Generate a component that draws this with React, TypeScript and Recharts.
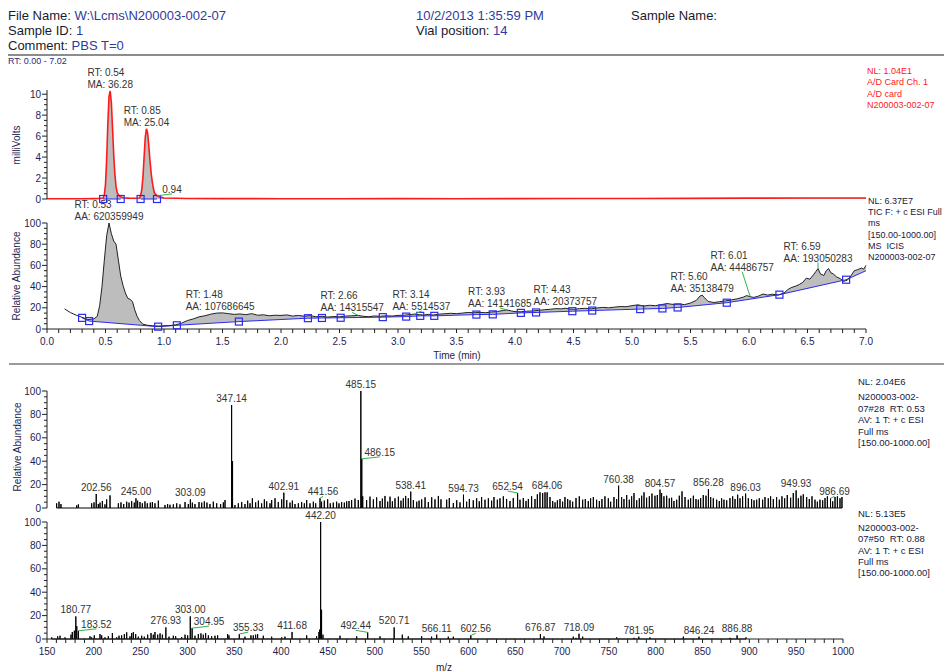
import React from "react";
import { ComposedChart, Line, Area, Scatter, XAxis, YAxis } from "recharts";

const FONT = '"Liberation Sans", Arial, Helvetica, sans-serif';
const AXIS = "#202020";
const TICK_TXT = "#1e1e50";
const NOTE_TXT = "#333333";
const GREEN = "#33b34a";
const BLUE = "#2a2af0";
const RED = "#ff1a1a";
const GRAY = "#bdbdbd";

// ---------- header ----------
const headerLeft: [string, string][] = [
  ["File Name: ", "W:\\Lcms\\N200003-002-07"],
  ["Sample ID: ", "1"],
  ["Comment: ", "PBS T=0"],
];
const headerMid: [string, string][] = [
  ["", "10/2/2013 1:35:59 PM"],
  ["Vial position: ", "14"],
];
const headerRight = "Sample Name:";
const rtRange = "RT: 0.00 - 7.02";

// ---------- A/D channel (milliVolts) ----------
const mvTime = [
  0, 0.1, 0.2, 0.3, 0.4, 0.45, 0.48, 0.49, 0.5, 0.51,
  0.52, 0.53, 0.54, 0.55, 0.56, 0.57, 0.58, 0.59, 0.6, 0.62,
  0.65, 0.7, 0.75, 0.79, 0.8, 0.81, 0.82, 0.83, 0.84, 0.85,
  0.86, 0.87, 0.88, 0.89, 0.9, 0.91, 0.92, 0.94, 0.97, 1.0,
  1.2, 1.5, 2.0, 2.5, 3.0, 3.5, 4.0, 4.5, 5.0, 5.5,
  6.0, 6.5, 7.0,
];
const mvSignal = [
  0.02, 0.03, 0.02, 0.03, 0.04, 0.05, 0.1, 0.4, 1.4, 3.8,
  7.2, 9.8, 10.3, 9.2, 6.8, 4.3, 2.4, 1.2, 0.6, 0.25,
  0.12, 0.08, 0.07, 0.1, 0.3, 0.9, 2.1, 4.0, 5.9, 6.7,
  6.3, 5.1, 3.7, 2.5, 1.6, 0.95, 0.55, 0.3, 0.18, 0.1,
  0.05, 0.04, 0.03, 0.03, 0.04, 0.03, 0.04, 0.05, 0.05, 0.06,
  0.08, 0.1, 0.1,
];
const mvPeakRT = [0.54, 0.85];
const mvPeakHeight = [10.3, 6.7];
const mvPeakArea = ["36.28", "25.04"];
const mvBaseTime = [0.48, 0.63, 0.8, 0.94];
const mvMinorRT = [0.94];
const mvMinorHeight = [0.3];
const mvLegend = ["NL: 1.04E1", "A/D Card Ch. 1", "A/D card", "N200003-002-07"];

// ---------- TIC ----------
const ticTime = [
  0.15, 0.2, 0.25, 0.3, 0.35, 0.4, 0.43, 0.45, 0.47, 0.49,
  0.51, 0.53, 0.55, 0.57, 0.59, 0.61, 0.63, 0.65, 0.67, 0.69,
  0.71, 0.73, 0.75, 0.77, 0.79, 0.82, 0.86, 0.9, 0.95, 1.0,
  1.05, 1.1, 1.15, 1.2, 1.25, 1.3, 1.35, 1.4, 1.45, 1.5,
  1.55, 1.6, 1.65, 1.7, 1.75, 1.8, 1.85, 1.9, 1.95, 2.0,
  2.05, 2.1, 2.15, 2.2, 2.25, 2.3, 2.35, 2.4, 2.45, 2.5,
  2.55, 2.6, 2.66, 2.7, 2.75, 2.8, 2.85, 2.9, 2.95, 3.0,
  3.05, 3.1, 3.14, 3.18, 3.22, 3.26, 3.3, 3.35, 3.4, 3.45,
  3.5, 3.55, 3.6, 3.65, 3.7, 3.75, 3.8, 3.85, 3.9, 3.93,
  3.97, 4.0, 4.05, 4.1, 4.15, 4.2, 4.25, 4.3, 4.35, 4.4,
  4.43, 4.47, 4.5, 4.55, 4.6, 4.65, 4.7, 4.75, 4.8, 4.85,
  4.9, 4.95, 5.0, 5.05, 5.1, 5.15, 5.2, 5.25, 5.3, 5.35,
  5.4, 5.45, 5.5, 5.55, 5.58, 5.6, 5.62, 5.65, 5.7, 5.75,
  5.8, 5.85, 5.9, 5.95, 5.98, 6.01, 6.04, 6.08, 6.12, 6.16,
  6.2, 6.25, 6.3, 6.33, 6.36, 6.4, 6.43, 6.46, 6.49, 6.52,
  6.55, 6.57, 6.59, 6.61, 6.64, 6.66, 6.68, 6.7, 6.72, 6.75,
  6.78, 6.81, 6.84, 6.87, 6.9, 6.93, 6.96, 6.98, 7.0,
];
const ticSignal = [
  19, 15.5, 13, 11, 9, 9.5, 12, 22, 40, 65,
  88, 100, 90, 83, 80, 65, 50, 41, 34, 29,
  28, 26, 18, 12, 8, 4.5, 3.5, 3, 2.8, 3,
  3.2, 4, 5.5, 8, 9.5, 11.5, 12.5, 14, 15, 15.2,
  14.5, 13.8, 14.2, 13.5, 14.5, 13, 13.4, 12.5, 13, 12.8,
  13.3, 12.2, 12.8, 12, 12.6, 11.5, 12, 11.2, 11.8, 11.5,
  12.2, 12.4, 12.8, 12, 11.6, 12.3, 12, 12.5, 12.2, 12.8,
  13, 13.6, 14, 13.5, 13.2, 13.8, 13.2, 14, 14.4, 14.8,
  14.5, 15, 15.6, 15.3, 15.6, 15.4, 16, 16.5, 17.5, 18,
  17, 16.4, 16.2, 16.8, 17, 17.5, 18.2, 18.6, 19.2, 19,
  19.6, 18.8, 18.6, 19.2, 19.5, 19, 19.8, 20.4, 20, 20.6,
  21.2, 21, 22, 22.8, 21.6, 22.4, 22, 23, 24, 23.2,
  23.6, 23, 24.5, 27, 31, 32, 29.5, 26, 25, 25.8,
  26.5, 27.5, 28.5, 30, 31.5, 30.5, 29.8, 31, 33, 32,
  32.8, 32, 34, 37, 39, 40.5, 42, 44, 48, 47,
  51, 54, 57, 52, 50.5, 55, 57, 53, 52, 49,
  47.5, 45, 46, 50, 55, 56, 57.5, 56.5, 60,
];
const ticBaseTime = [
  0.3, 0.36, 0.95, 1.11, 1.64, 2.23, 2.35, 2.51, 2.87, 3.07,
  3.19, 3.31, 3.67, 3.81, 4.05, 4.18, 4.49, 4.66, 5.07, 5.26,
  5.39, 5.81, 6.26, 6.83, 7.0,
];
const ticBaseline = [
  10.5, 7.5, 2.2, 3.5, 7, 10.2, 10.4, 10.6, 11.2, 11.7,
  12.4, 12.4, 13.6, 13.8, 15.2, 15.6, 16.8, 17.4, 18.8, 19.4,
  20.3, 24.8, 32.4, 46.5, 55,
];
const ticPeakRT = [0.53, 1.48, 2.66, 3.14, 3.93, 4.43, 5.6, 6.01, 6.59];
const ticPeakHeight = [100, 15.2, 12.8, 14, 18, 19.6, 32, 30.5, 57];
const ticPeakArea = [
  "620359949", "107686645", "14315547", "5514537", "14141685",
  "20373757", "35138479", "44486757", "193050283",
];
const ticLegend = ["NL: 6.37E7", "TIC F: + c ESI Full", "ms", "[150.00-1000.00]", "MS  ICIS", "N200003-002-07"];

// ---------- spectrum #28, RT 0.53 ----------
const ms1Mz = [
  160.3, 162.8, 164.9, 181.7, 183.5, 197.7, 200.2, 202.56, 204.8, 206.6,
  209.1, 211.9, 213.7, 217.3, 226.2, 229.0, 231.9, 235.1, 237.6, 240.4,
  243.2, 245.0, 246.8, 249.3, 251.8, 254.6, 257.1, 260.3, 262.5, 265.3,
  268.9, 276.0, 278.8, 281.3, 284.9, 288.5, 292.0, 297.4, 300.9, 303.09,
  305.2, 308.0, 312.3, 315.2, 318.0, 320.8, 324.0, 327.6, 331.2, 335.4,
  338.3, 340.1, 347.14, 348.14, 350.7, 354.3, 357.9, 361.4, 364.3, 366.8,
  369.3, 372.8, 375.7, 379.2, 382.1, 384.6, 388.1, 389.9, 393.5, 397.0,
  400.6, 402.91, 406.0, 409.5, 412.0, 414.8, 418.4, 421.9, 424.8, 427.3,
  430.8, 434.4, 436.9, 441.56, 443.2, 446.1, 449.7, 452.5, 455.7, 459.3,
  461.8, 464.6, 467.5, 470.0, 472.5, 475.3, 478.9, 482.4, 485.15, 486.15,
  487.15, 491.3, 494.9, 498.5, 502.0, 505.6, 508.1, 510.9, 513.8, 516.3,
  518.8, 521.6, 525.2, 528.0, 530.5, 533.0, 535.8, 538.41, 541.2, 544.8,
  547.3, 550.1, 553.7, 557.2, 560.8, 564.3, 567.9, 570.7, 576.8, 579.6,
  583.9, 587.5, 591.0, 594.73, 598.1, 601.0, 605.2, 608.8, 611.6, 614.1,
  617.7, 621.3, 624.8, 627.3, 630.9, 633.7, 637.3, 640.8, 644.4, 647.9,
  652.54, 655.1, 658.6, 661.5, 664.0, 667.5, 671.1, 673.6, 676.4, 679.3,
  681.8, 684.06, 687.1, 690.0, 692.5, 695.0, 697.8, 700.6, 703.1, 706.0,
  708.5, 711.3, 714.9, 718.4, 722.0, 724.8, 728.0, 730.5, 733.4, 736.9,
  739.8, 742.6, 745.8, 749.4, 751.9, 755.4, 758.3, 760.38, 763.6, 766.1,
  769.0, 771.8, 774.3, 776.8, 779.7, 782.5, 785.0, 787.5, 790.3, 793.2,
  796.0, 799.2, 801.7, 804.57, 806.3, 808.8, 811.7, 814.5, 817.0, 819.5,
  822.4, 825.2, 828.1, 831.3, 834.8, 837.3, 840.2, 843.0, 845.5, 848.0,
  850.8, 853.7, 856.28, 858.7, 861.5, 865.1, 867.9, 870.4, 872.9, 875.8,
  879.3, 882.2, 884.7, 887.5, 890.0, 892.8, 896.03, 898.9, 902.4, 905.0,
  907.8, 910.6, 914.2, 916.7, 920.2, 922.7, 925.6, 929.1, 932.0, 934.8,
  937.7, 940.5, 944.1, 946.9, 949.93, 952.3, 955.1, 957.6, 961.2, 964.0,
  966.9, 970.1, 972.6, 975.4, 978.3, 980.8, 983.3, 986.69, 989.0, 991.5,
  994.0, 996.8, 998.9,
];
const ms1Int = [
  4.0, 5.4, 3.4, 2.3, 3.1, 4.0, 4.8, 12.0, 3.4, 4.6,
  6.0, 3.1, 7.4, 10.8, 4.0, 4.8, 3.4, 5.4, 4.6, 6.0,
  4.6, 8.3, 6.3, 5.1, 4.0, 5.7, 4.0, 4.6, 5.1, 4.0,
  6.3, 2.6, 3.4, 2.8, 3.1, 4.0, 3.1, 5.1, 3.4, 7.4,
  4.6, 3.4, 5.1, 4.6, 5.7, 4.6, 3.4, 5.4, 4.0, 3.4,
  4.8, 6.8, 88, 40, 2.6, 4.0, 5.1, 3.4, 6.3, 4.0,
  8.3, 4.8, 6.3, 4.0, 7.4, 5.7, 4.0, 6.8, 8.3, 5.1,
  7.4, 13.1, 6.8, 4.6, 6.3, 3.4, 4.0, 5.1, 4.0, 6.8,
  4.0, 5.4, 4.0, 8.3, 5.4, 6.3, 7.4, 4.0, 4.6, 5.4,
  4.0, 5.1, 4.6, 5.7, 6.0, 6.8, 8.0, 6.8, 100, 42,
  10, 6.8, 9.7, 7.4, 9.1, 6.0, 8.0, 10.3, 5.4, 9.7,
  5.7, 8.3, 9.7, 6.3, 8.3, 10.3, 8.3, 14.0, 6.8, 5.4,
  6.3, 7.4, 9.1, 5.1, 9.1, 7.4, 10.3, 7.4, 7.1, 8.5,
  4.3, 6.6, 4.8, 11.4, 5.4, 7.7, 6.6, 8.3, 5.7, 9.4,
  7.1, 8.3, 6.3, 9.4, 7.1, 8.3, 10.0, 7.7, 6.0, 8.5,
  12.8, 7.1, 8.5, 6.0, 7.7, 10.0, 7.7, 11.7, 13.4, 12.8,
  13.4, 13.4, 9.4, 6.0, 4.8, 6.6, 7.7, 5.4, 9.4, 7.7,
  6.6, 5.4, 8.5, 10.0, 7.1, 7.7, 6.0, 8.3, 9.4, 7.1,
  6.0, 7.7, 10.0, 8.3, 5.4, 9.4, 7.7, 19.1, 9.4, 7.7,
  11.1, 7.1, 10.0, 12.8, 6.6, 8.3, 10.5, 13.4, 8.8, 10.0,
  12.3, 10.5, 11.1, 15.7, 12.8, 10.0, 10.5, 8.3, 8.8, 6.0,
  7.1, 10.5, 14.2, 9.4, 7.1, 8.3, 10.5, 7.7, 7.1, 8.5,
  11.1, 10.5, 16.2, 9.4, 8.3, 7.1, 6.0, 8.3, 7.1, 6.6,
  8.5, 10.0, 7.7, 11.4, 8.3, 10.0, 12.3, 8.3, 7.7, 6.6,
  7.1, 8.3, 7.1, 9.4, 8.3, 10.0, 7.7, 9.4, 7.1, 10.0,
  8.3, 11.1, 8.8, 12.8, 15.1, 8.3, 10.5, 11.7, 9.4, 7.7,
  10.0, 7.1, 5.4, 7.1, 6.6, 8.5, 10.0, 8.3, 5.7, 9.4,
  10.0, 8.3, 9.4,
];
const ms1Labels = [
  202.56, 245.0, 303.09, 347.14, 402.91, 441.56, 485.15, 486.15, 538.41,
  594.73, 652.54, 684.06, 760.38, 804.57, 856.28, 896.03, 949.93, 986.69,
];
const ms1Legend = ["N200003-002-", "07#28  RT: 0.53", "AV: 1 T: + c ESI", "Full ms", "[150.00-1000.00]"];

// ---------- spectrum #50, RT 0.88 ----------
const ms2Mz = [
  155.0, 161.4, 163.9, 169.2, 175.6, 177.0, 179.2, 180.77, 181.8, 183.52,
  195.9, 197.7, 200.5, 206.6, 208.4, 211.9, 215.5, 219.8, 224.4, 226.9,
  229.7, 232.6, 235.1, 238.6, 240.4, 242.2, 244.7, 247.5, 251.1, 253.9,
  257.5, 261.1, 263.5, 265.3, 268.2, 270.7, 273.2, 276.93, 280.3, 284.9,
  287.4, 293.8, 297.4, 300.2, 303.0, 304.95, 308.0, 311.6, 314.4, 316.9,
  319.4, 322.3, 325.8, 329.4, 332.2, 342.9, 344.3, 355.33, 361.4, 367.8,
  370.3, 372.8, 374.9, 381.0, 389.9, 400.6, 404.1, 411.68, 427.3, 437.9,
  440.4, 441.2, 442.2, 443.2, 444.7, 462.9, 480.7, 492.44, 505.6, 520.71,
  529.4, 535.8, 550.1, 560.7, 566.11, 578.5, 583.9, 602.56, 676.87, 680.7,
  712.0, 714.9, 718.09, 722.0, 758.3, 776.8, 781.95, 793.9, 829.5, 846.24,
  879.3, 886.88, 896.4,
];
const ms2Int = [
  1.4, 2.3, 2.8, 1.4, 3.7, 6.0, 7.1, 19.3, 11, 7,
  2.3, 1.4, 3.1, 4.2, 3.1, 1.4, 2.3, 5.1, 1.4, 2.8,
  3.1, 4.2, 5.7, 2.3, 5.1, 6.0, 4.2, 2.0, 2.8, 2.0,
  3.7, 5.1, 3.7, 6.0, 3.7, 4.8, 3.7, 9.9, 2.0, 2.8,
  2.3, 1.7, 3.7, 3.1, 19.3, 9.3, 2.8, 4.2, 4.8, 3.7,
  5.1, 3.1, 2.3, 2.8, 3.1, 4.2, 3.1, 4.2, 2.0, 3.1,
  3.1, 3.7, 4.2, 2.8, 2.0, 1.4, 2.0, 6.0, 3.1, 2.3,
  6.0, 8.0, 100, 25, 3.7, 2.8, 2.3, 5.7, 2.3, 9.9,
  3.7, 2.3, 2.3, 2.0, 3.7, 2.0, 2.0, 3.1, 4.2, 2.2,
  2.0, 1.0, 4.5, 2.0, 1.4, 1.0, 2.0, 1.4, 2.0, 2.0,
  1.0, 3.1, 1.4,
];
const ms2Labels = [
  180.77, 183.52, 276.93, 303.0, 304.95, 355.33, 411.68, 442.2, 492.44,
  520.71, 566.11, 602.56, 676.87, 718.09, 781.95, 846.24, 886.88,
];
const ms2Legend = ["N200003-002-", "07#50  RT: 0.88", "AV: 1 T: + c ESI", "Full ms", "[150.00-1000.00]"];

// ---------- axis ticks ----------
const mvTickLabels = [0, 2, 4, 6, 8, 10];
const abundanceTickLabels = [0, 20, 40, 60, 80, 100];
const timeTickLabels = [0, 0.5, 1, 1.5, 2, 2.5, 3, 3.5, 4, 4.5, 5, 5.5, 6, 6.5, 7];
const mzTickLabels = [150, 200, 250, 300, 350, 400, 450, 500, 550, 600, 650, 700, 750, 800, 850, 900, 950, 1000];

// label placement tweaks (pixels): where the software pushed a label aside with a leader
const ticNoteShift: Record<string, { up: number; dx: number }> = {
  "2.66": { up: 4, dx: -6 },
  "3.14": { up: 4, dx: 7 },
  "3.93": { up: 3, dx: -7 },
  "6.01": { up: 26, dx: -8 },
  "6.59": { up: 7, dx: 0 },
};
const ms1Shift: Record<string, number> = { "441.56": 3, "486.15": 18, "652.54": -10, "986.69": 4 };
const ms2Shift: Record<string, number> = { "183.52": 18, "304.95": 17, "355.33": 9, "492.44": -12, "602.56": 5 };
const mvMinorShift: Record<string, number> = { "0.94": 15 };

// ---------- helpers ----------
const steps = (a: number, b: number, s: number) => {
  const out: number[] = [];
  for (let i = 0; a + i * s <= b + 1e-9; i++) out.push(Math.round((a + i * s) * 1000) / 1000);
  return out;
};
const isIn = (list: number[], v: number) => list.some((t) => Math.abs(t - v) < 1e-6);
const pairs = (xs: number[], ys: number[]) => xs.map((x, i) => ({ x, y: ys[i] }));
const sticks = (mz: number[], inten: number[]) =>
  pairs(mz, inten)
    .sort((a, b) => a.x - b.x)
    .flatMap((p) => [{ x: p.x, y: 0 }, p, { x: p.x, y: 0 }]);
const labelRows = (labels: number[], mz: number[], inten: number[]) =>
  labels.map((l) => {
    const i = mz.findIndex((m) => Math.abs(m - l) < 0.005);
    return { x: l, y: inten[i], text: l.toFixed(2) };
  });

const ctx = (() => {
  try {
    return document.createElement("canvas").getContext("2d");
  } catch {
    return null;
  }
})();
const textW = (s: string, size: number) => {
  if (!ctx) return s.length * size * 0.55;
  ctx.font = `${size}px "Liberation Sans", Arial, sans-serif`;
  return ctx.measureText(s).width;
};

const TS = 5;
const TM = 2;

const yTick = (labels: number[]) => (p: any) => {
  const { x, y, payload } = p;
  const ax = x + TS + TM;
  const major = isIn(labels, payload.value);
  return (
    <g>
      <line x1={ax - (major ? 5 : 3)} x2={ax} y1={y} y2={y} stroke={AXIS} strokeWidth={1} />
      {major && (
        <text x={ax - 6} y={y} dy="0.35em" textAnchor="end" fontSize={10} fontFamily={FONT} fill={TICK_TXT}>
          {Math.round(payload.value)}
        </text>
      )}
    </g>
  );
};

const xTick = (labels: number[], digits: number) => (p: any) => {
  const { x, y, payload } = p;
  const ay = y - TS - TM;
  const major = isIn(labels, payload.value);
  return (
    <g>
      <line x1={x} x2={x} y1={ay} y2={ay + 4} stroke={AXIS} strokeWidth={1} />
      {major && (
        <text x={x} y={ay + 9} dy="0.71em" textAnchor="middle" fontSize={10} fontFamily={FONT} fill={TICK_TXT}>
          {Number(payload.value).toFixed(digits)}
        </text>
      )}
    </g>
  );
};

const Square = (p: any) =>
  p.cx == null ? <g /> : (
    <rect x={p.cx - 3.5} y={p.cy - 3.5} width={7} height={7} fill="none" stroke={BLUE} strokeWidth={1.2} />
  );

const peakNote = (kind: string, shift: Record<string, { up: number; dx: number }>) => (p: any) => {
  const { cx, cy, payload } = p;
  if (cx == null || cy == null) return <g />;
  const rt = Number(payload.x).toFixed(2);
  const off = shift[rt] ?? { up: 3, dx: 0 };
  const l1 = `RT: ${rt}`;
  const l2 = `${kind}: ${payload.area}`;
  const w = Math.max(textW(l1, 10), textW(l2, 10));
  const left = cx + off.dx - w / 2;
  const base = cy - off.up;
  return (
    <g>
      {(off.up > 4 || off.dx !== 0) && (
        <line x1={cx} y1={cy} x2={cx + off.dx} y2={base + 1} stroke={GREEN} strokeWidth={1} />
      )}
      <text x={left} y={base - 12} fontSize={10} fontFamily={FONT} fill={NOTE_TXT}>
        {l1}
      </text>
      <text x={left} y={base} fontSize={10} fontFamily={FONT} fill={NOTE_TXT}>
        {l2}
      </text>
    </g>
  );
};

const stickNote = (shift: Record<string, number>) => (p: any) => {
  const { cx, cy, payload } = p;
  if (cx == null || cy == null) return <g />;
  const dx = shift[payload.text];
  const lx = cx + (dx ?? 0);
  return (
    <g>
      {dx !== undefined && <line x1={cx} y1={cy} x2={lx} y2={cy - 2} stroke={GREEN} strokeWidth={1} />}
      <text x={lx} y={cy - 3} textAnchor="middle" fontSize={10} fontFamily={FONT} fill={NOTE_TXT}>
        {payload.text}
      </text>
    </g>
  );
};

const Block = ({ x, y, lines, color, size, lh }: { x: number; y: number; lines: string[]; color: string; size: number; lh: number }) => (
  <div style={{ position: "absolute", left: x, top: y, color, fontSize: size, lineHeight: `${lh}px`, whiteSpace: "pre", fontFamily: FONT }}>
    {lines.map((l, i) => (
      <div key={i}>{l}</div>
    ))}
  </div>
);

const VLabel = ({ x, y, text }: { x: number; y: number; text: string }) => (
  <div
    style={{
      position: "absolute",
      left: x,
      top: y,
      transform: "translate(-50%, -50%) rotate(-90deg)",
      fontSize: 10,
      fontFamily: FONT,
      color: TICK_TXT,
      whiteSpace: "nowrap",
    }}
  >
    {text}
  </div>
);

const HLabel = ({ x, y, text }: { x: number; y: number; text: string }) => (
  <div style={{ position: "absolute", left: x, top: y, transform: "translate(-50%, -50%)", fontSize: 10, fontFamily: FONT, color: TICK_TXT, whiteSpace: "nowrap" }}>
    {text}
  </div>
);

// ---------- tables ----------
const mvRows = pairs(mvTime, mvSignal);
const mvNotes = mvPeakRT.map((x, i) => ({ x, y: mvPeakHeight[i], area: mvPeakArea[i] }));
const mvBaseRows = mvBaseTime.map((x) => ({ x, y: 0 }));
const mvSegments = [mvBaseRows.slice(0, 2), mvBaseRows.slice(2, 4)];
const mvMinorNotes = mvMinorRT.map((x, i) => ({ x, y: mvMinorHeight[i], text: x.toFixed(2) }));

const ticRows = pairs(ticTime, ticSignal);
const ticFillRows = ticRows.filter((r) => r.x >= ticBaseTime[0]);
const ticBaseRows = pairs(ticBaseTime, ticBaseline);
const ticSquares = ticBaseRows.slice(0, -1);
const ticNotes = ticPeakRT.map((x, i) => ({ x, y: ticPeakHeight[i], area: ticPeakArea[i] }));

const ms1Rows = sticks(ms1Mz, ms1Int);
const ms1Notes = labelRows(ms1Labels, ms1Mz, ms1Int);
const ms2Rows = sticks(ms2Mz, ms2Int);
const ms2Notes = labelRows(ms2Labels, ms2Mz, ms2Int);

const W = 944;

export default function App() {
  return (
    <div style={{ position: "absolute", left: 0, top: 0, width: 944, height: 672, background: "#fff", overflow: "hidden", fontFamily: FONT }}>
      <style>{".recharts-surface{overflow:visible}"}</style>

      {/* header */}
      <div style={{ position: "absolute", left: 8, top: 8, fontSize: 13, lineHeight: "15px" }}>
        {headerLeft.map(([k, v]) => (
          <div key={k}>
            <span style={{ color: "#1a1a2e" }}>{k}</span>
            <span style={{ color: "#2e3a9e" }}>{v}</span>
          </div>
        ))}
      </div>
      <div style={{ position: "absolute", left: 416, top: 8, fontSize: 13, lineHeight: "15px" }}>
        {headerMid.map(([k, v]) => (
          <div key={v}>
            <span style={{ color: "#1a1a2e" }}>{k}</span>
            <span style={{ color: "#2e3a9e" }}>{v}</span>
          </div>
        ))}
      </div>
      <div style={{ position: "absolute", left: 631, top: 8, fontSize: 13, lineHeight: "15px", color: "#1a1a2e" }}>{headerRight}</div>
      <div style={{ position: "absolute", left: 8, top: 56, fontSize: 9, lineHeight: "10px", color: "#2b2b80" }}>{rtRange}</div>

      {/* panel 1: A/D channel */}
      <div style={{ position: "absolute", left: 0, top: 60 }}>
        <ComposedChart width={W} height={150} margin={{ top: 30, right: 78, bottom: 11, left: 0 }}>
          <Area data={mvRows} dataKey="y" type="linear" stroke="none" fill={GRAY} fillOpacity={1} isAnimationActive={false} />
          <Line data={mvRows} dataKey="y" type="linear" stroke={RED} strokeWidth={1.6} dot={false} activeDot={false} isAnimationActive={false} />
          {mvSegments.map((seg, i) => (
            <Line key={i} data={seg} dataKey="y" stroke={BLUE} strokeWidth={1} dot={false} activeDot={false} isAnimationActive={false} />
          ))}
          <Scatter data={mvBaseRows} dataKey="y" shape={Square} isAnimationActive={false} />
          <Scatter data={mvNotes} dataKey="y" shape={peakNote("MA", {})} isAnimationActive={false} />
          <Scatter data={mvMinorNotes} dataKey="y" shape={stickNote(mvMinorShift)} isAnimationActive={false} />
          <XAxis type="number" dataKey="x" domain={[0, 7]} hide />
          <YAxis
            type="number"
            dataKey="y"
            width={47}
            domain={[0, 10.4]}
            ticks={steps(0, 10, 0.5)}
            interval={0}
            tickSize={TS}
            tickMargin={TM}
            tickLine={false}
            axisLine={{ stroke: AXIS }}
            tick={yTick(mvTickLabels)}
          />
        </ComposedChart>
      </div>
      <VLabel x={16} y={145} text="milliVolts" />
      <Block x={867} y={66} lines={mvLegend} color={RED} size={9} lh={11.3} />

      {/* panel 2: TIC */}
      <div style={{ position: "absolute", left: 0, top: 190 }}>
        <ComposedChart width={W} height={175} margin={{ top: 33, right: 78, bottom: 0, left: 0 }}>
          <Area data={ticFillRows} dataKey="y" type="linear" stroke="none" fill={GRAY} fillOpacity={1} isAnimationActive={false} />
          <Area data={ticBaseRows} dataKey="y" type="linear" stroke="none" fill="#ffffff" fillOpacity={1} isAnimationActive={false} />
          <Line data={ticBaseRows} dataKey="y" type="linear" stroke={BLUE} strokeWidth={1} dot={false} activeDot={false} isAnimationActive={false} />
          <Line data={ticRows} dataKey="y" type="linear" stroke="#222" strokeWidth={1} dot={false} activeDot={false} isAnimationActive={false} />
          <Scatter data={ticSquares} dataKey="y" shape={Square} isAnimationActive={false} />
          <Scatter data={ticNotes} dataKey="y" shape={peakNote("AA", ticNoteShift)} isAnimationActive={false} />
          <XAxis
            type="number"
            dataKey="x"
            domain={[0, 7]}
            ticks={steps(0, 7, 0.1)}
            interval={0}
            height={36}
            tickSize={TS}
            tickMargin={TM}
            tickLine={false}
            axisLine={{ stroke: AXIS }}
            tick={xTick(timeTickLabels, 1)}
          />
          <YAxis
            type="number"
            dataKey="y"
            width={47}
            domain={[0, 100]}
            ticks={steps(0, 100, 5)}
            interval={0}
            tickSize={TS}
            tickMargin={TM}
            tickLine={false}
            axisLine={{ stroke: AXIS }}
            tick={yTick(abundanceTickLabels)}
          />
        </ComposedChart>
      </div>
      <VLabel x={16} y={276} text="Relative Abundance" />
      <HLabel x={457} y={355} text="Time (min)" />
      <Block x={868} y={196} lines={ticLegend} color="#202040" size={9} lh={11.2} />

      <div style={{ position: "absolute", left: 8, top: 54, width: 936, height: 2, background: "#8c8c8c" }} />
      <div style={{ position: "absolute", left: 9, top: 363, width: 935, height: 1.5, background: "#9a9a9a" }} />

      {/* panel 3: spectrum at 0.53 */}
      <div style={{ position: "absolute", left: 0, top: 365 }}>
        <ComposedChart width={W} height={147} margin={{ top: 26, right: 101, bottom: 4, left: 0 }}>
          <Line data={ms1Rows} dataKey="y" type="linear" stroke="#000" strokeWidth={1} dot={false} activeDot={false} isAnimationActive={false} />
          <Scatter data={ms1Notes} dataKey="y" shape={stickNote(ms1Shift)} isAnimationActive={false} />
          <XAxis type="number" dataKey="x" domain={[150, 1000]} hide />
          <YAxis
            type="number"
            dataKey="y"
            width={47}
            domain={[0, 100]}
            ticks={steps(0, 100, 5)}
            interval={0}
            tickSize={TS}
            tickMargin={TM}
            tickLine={false}
            axisLine={{ stroke: AXIS }}
            tick={yTick(abundanceTickLabels)}
          />
        </ComposedChart>
      </div>
      <VLabel x={17} y={447} text="Relative Abundance" />
      <Block x={858} y={376} lines={["NL: 2.04E6"]} color="#202040" size={9.5} lh={12} />
      <Block x={858} y={391} lines={ms1Legend} color="#202040" size={9.5} lh={11.5} />

      {/* panel 4: spectrum at 0.88 */}
      <div style={{ position: "absolute", left: 0, top: 505 }}>
        <ComposedChart width={W} height={167} margin={{ top: 17, right: 101, bottom: 0, left: 0 }}>
          <Line data={ms2Rows} dataKey="y" type="linear" stroke="#000" strokeWidth={1} dot={false} activeDot={false} isAnimationActive={false} />
          <Scatter data={ms2Notes} dataKey="y" shape={stickNote(ms2Shift)} isAnimationActive={false} />
          <XAxis
            type="number"
            dataKey="x"
            domain={[150, 1000]}
            ticks={steps(150, 1000, 10)}
            interval={0}
            height={33}
            tickSize={TS}
            tickMargin={TM}
            tickLine={false}
            axisLine={{ stroke: AXIS }}
            tick={xTick(mzTickLabels, 0)}
          />
          <YAxis
            type="number"
            dataKey="y"
            width={47}
            domain={[0, 100]}
            ticks={steps(0, 100, 5)}
            interval={0}
            tickSize={TS}
            tickMargin={TM}
            tickLine={false}
            axisLine={{ stroke: AXIS }}
            tick={yTick(abundanceTickLabels)}
          />
        </ComposedChart>
      </div>
      <HLabel x={444} y={667} text="m/z" />
      <Block x={858} y={508} lines={["NL: 5.13E5"]} color="#202040" size={9.5} lh={12} />
      <Block x={858} y={522} lines={ms2Legend} color="#202040" size={9.5} lh={11.25} />
    </div>
  );
}
